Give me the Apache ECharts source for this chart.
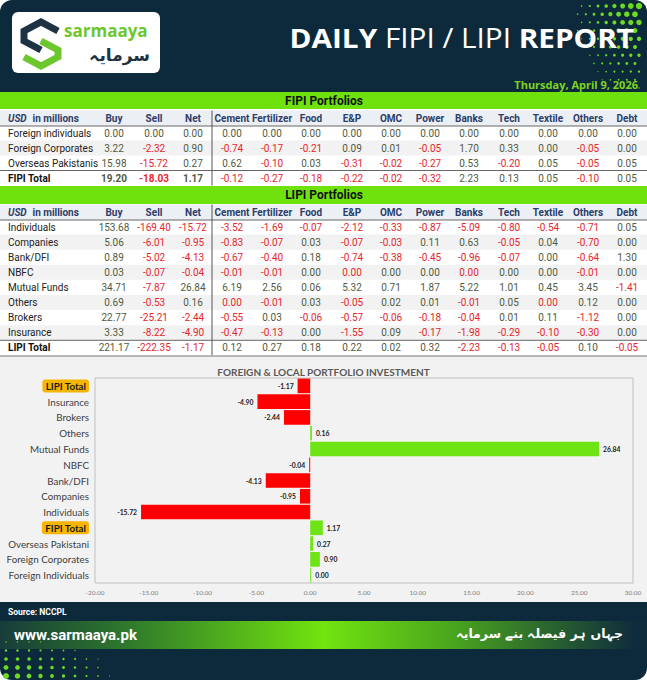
<!DOCTYPE html>
<html>
<head>
<meta charset="utf-8">
<script src="https://cdn.jsdelivr.net/npm/echarts@6/dist/echarts.min.js"></script>
<style>
html,body{margin:0;padding:0;background:#fff;}
#c{width:647px;height:680px;}
</style>
</head>
<body>
<div id="c"></div>
<script>
// ---------- DATA ----------
const reportTitleBold1 = 'DAILY';
const reportTitleMid = 'FIPI / LIPI';
const reportTitleBold2 = 'REPORT';
const reportDate = 'Thursday, April 9, 2026';
const columns = ['Buy','Sell','Net','Cement','Fertilizer','Food','E&P','OMC','Power','Banks','Tech','Textile','Others','Debt'];

const fipiLabels = ['Foreign individuals','Foreign Corporates','Overseas Pakistanis'];
const fipiValues = [
  [0.00, 0.00, 0.00, 0.00, 0.00, 0.00, 0.00, 0.00, 0.00, 0.00, 0.00, 0.00, 0.00, 0.00],
  [3.22, -2.32, 0.90, -0.74, -0.17, -0.21, 0.09, 0.01, -0.05, 1.70, 0.33, 0.00, -0.05, 0.00],
  [15.98, -15.72, 0.27, 0.62, -0.10, 0.03, -0.31, -0.02, -0.27, 0.53, -0.20, 0.05, -0.05, 0.05]
];
const fipiTotal = [19.20, -18.03, 1.17, -0.12, -0.27, -0.18, -0.22, -0.02, -0.32, 2.23, 0.13, 0.05, -0.10, 0.05];

const lipiLabels = ['Individuals','Companies','Bank/DFI','NBFC','Mutual Funds','Others','Brokers','Insurance'];
// -0 marks a value shown as 0.00 in red (tiny negative)
const lipiValues = [
  [153.68, -169.40, -15.72, -3.52, -1.69, -0.07, -2.12, -0.33, -0.87, -5.09, -0.80, -0.54, -0.71, 0.05],
  [5.06, -6.01, -0.95, -0.83, -0.07, 0.03, -0.07, -0.03, 0.11, 0.63, -0.05, 0.04, -0.70, 0.00],
  [0.89, -5.02, -4.13, -0.67, -0.40, 0.18, -0.74, -0.38, -0.45, -0.96, -0.07, 0.00, -0.64, 1.30],
  [0.03, -0.07, -0.04, -0.01, -0.01, 0.00, -0, 0.00, 0.00, -0, 0.00, 0.00, -0.01, 0.00],
  [34.71, -7.87, 26.84, 6.19, 2.56, 0.06, 5.32, 0.71, 1.87, 5.22, 1.01, 0.45, 3.45, -1.41],
  [0.69, -0.53, 0.16, -0, -0.01, 0.03, -0.05, 0.02, 0.01, -0.01, 0.05, -0, 0.12, 0.00],
  [22.77, -25.21, -2.44, -0.55, 0.03, -0.06, -0.57, -0.06, -0.18, -0.04, 0.01, 0.11, -1.12, 0.00],
  [3.33, -8.22, -4.90, -0.47, -0.13, 0.00, -1.55, 0.09, -0.17, -1.98, -0.29, -0.10, -0.30, 0.00]
];
const lipiTotal = [221.17, -222.35, -1.17, 0.12, 0.27, 0.18, 0.22, 0.02, 0.32, -2.23, -0.13, -0.05, 0.10, -0.05];

const chartTitle = 'FOREIGN & LOCAL PORTFOLIO INVESTMENT';
const chartCategories = ['Foreign Individuals','Foreign Corporates','Overseas Pakistani','FIPI Total','Individuals','Companies','Bank/DFI','NBFC','Mutual Funds','Others','Brokers','Insurance','LIPI Total'];
const chartValues = [0.00, 0.90, 0.27, 1.17, -15.72, -0.95, -4.13, -0.04, 26.84, 0.16, -2.44, -4.90, -1.17];
const xMin = -20, xMax = 30, xStep = 5;

const sourceText = 'Source: NCCPL';
const siteText = 'www.sarmaaya.pk';
const sloganText = 'جہاں ہر فیصلہ بنے سرمایہ';
const brandLatin = 'sarmaaya';
const brandUrdu = 'سرمایہ';

// ---------- STYLE ----------
const NAVY = '#0c2a3b';
const GREEN = '#6fe20e';
const POS = '#4f5a3f';
const NEG = '#e5262c';
const HEAD = '#2b3d6b';
const colX = [114,154,193,232,272,311,352,391,430,469,509,548,588,627];
const W = 647;

const g = [];
function rect(x,y,w,h,fill,z,r){ g.push({type:'rect', z:z||0, shape:{x,y,width:w,height:h,r:r||0}, style:{fill}, silent:true}); }
function line(x1,y1,x2,y2,stroke,lw,z){ g.push({type:'line', z:z||1, shape:{x1,y1,x2,y2}, style:{stroke, lineWidth:lw||1}, silent:true}); }
function txt(x,y,text,font,fill,align,z,extra){
  g.push({type:'text', z:z||2, x, y, silent:true, style:Object.assign({text, font, fill, align:align||'left', verticalAlign:'middle'}, extra||{})});
}
function isNeg(v){ return v < 0 || Object.is(v,-0); }
function fmt(v){ return (v<0?'-':'') + Math.abs(v).toFixed(2); }

// header
rect(0,0,W,92,NAVY,0,[12,12,0,0]);
// decorative dots top-right
for(let r=0;r<11;r++){ for(let c=0;c<12;c++){
  const d = Math.sqrt(c*c*0.7 + r*r*0.35);
  const rad = 3.2 - d*0.42;
  if(rad>0.35){
    g.push({type:'circle', z:1, silent:true, shape:{cx: W-8 - c*8.2 - (r%2)*4, cy: 6 + r*8.2, r:rad}, style:{fill:'#6cd923'}});
  }
}}
// logo
rect(12,12,148,61,'#ffffff',1,6);
g.push({type:'polyline', z:3, silent:true, shape:{points:[[58,31],[41,22],[24,31],[24,41],[41,50]]}, style:{stroke:'#1d3344', lineWidth:7, fill:null, lineJoin:'miter'}});
g.push({type:'polyline', z:3, silent:true, shape:{points:[[41,41],[58,50],[58,57],[41,66],[24,57]]}, style:{stroke:'#6cc72c', lineWidth:7, fill:null, lineJoin:'miter'}});
txt(64,30,brandLatin,'bold 17px "Open Sans"','#6cc72c','left',3);
txt(150,55,brandUrdu,'bold 17px "DejaVu Sans"','#1d3344','right',3);
// title
g.push({type:'text', z:3, x:634, y:38, scaleX:1.1, silent:true, style:{
  text:'{b|'+reportTitleBold1+' }{r|'+reportTitleMid+' }{b|'+reportTitleBold2+'}',
  align:'right', verticalAlign:'middle', fill:'#fff',
  rich:{ b:{font:'bold 27px "Open Sans"', fill:'#fff'}, r:{font:'27px "Open Sans"', fill:'#fff'} }
}});
txt(638,84,reportDate,'bold 11px "Open Sans"','#7ed321','right',3);

// table builder
function tableBlock(barY, barH, title, headY, rowYs, labels, values, totalY, totalLabel, totals, boldTotalsCols){
  rect(0,barY,W,barH,GREEN,1);
  txt(324,barY+barH/2,title,'bold 12px Roboto','#111','center',3);
  rect(0,headY-7.5,W,15.5,'#eceff3',1);
  line(0,headY+8,W,headY+8,'#666',1,2);
  g.push({type:'text', z:3, x:8, y:headY, silent:true, style:{text:'{i|USD} {b| in millions}', verticalAlign:'middle',
    rich:{i:{font:'italic bold 10px Roboto', fill:HEAD}, b:{font:'bold 10px Roboto', fill:HEAD}}}});
  columns.forEach((c,i)=>txt(colX[i],headY,c,'bold 10px Roboto',HEAD,'center',3));
  rowYs.forEach((y,ri)=>{
    if(ri%2===1) rect(0,y-7.55,W,15.1,'#f2f2f2',1);
    txt(8,y,labels[ri],'10px Roboto','#222','left',3);
    values[ri].forEach((v,ci)=>txt(colX[ci],y,fmt(v),'10px Roboto',isNeg(v)?NEG:POS,'center',3));
  });
  line(0,totalY-7.5,W,totalY-7.5,'#666',1,2);
  txt(8,totalY,totalLabel,'bold 10px Roboto','#111','left',3);
  totals.forEach((v,ci)=>txt(colX[ci],totalY,fmt(v),(ci<boldTotalsCols?'bold ':'')+'10px Roboto',isNeg(v)?NEG:POS,'center',3));
  line(212,headY-7.5,212,totalY+7.5,'#555',1,2);
}
tableBlock(92,17,'FIPI Portfolios',118,[133,148,163],fipiLabels,fipiValues,178,'FIPI Total',fipiTotal,3);
tableBlock(186,18,'LIPI Portfolios',212,[227,242.1,257.2,272.3,287.4,302.5,317.6,332.7],lipiLabels,lipiValues,347.8,'LIPI Total',lipiTotal,0);

// chart panel
rect(0,356,W,247,'#f2f2f2',-1);
line(0,356,W,356,'#777',1,2);

// footer
rect(0,602,W,78,NAVY,0,[0,0,12,12]);
g.push({type:'rect', z:1, silent:true, shape:{x:0,y:621,width:W,height:28}, style:{fill:new echarts.graphic.LinearGradient(0,0,1,0,[
  {offset:0,color:'#173c3a'},{offset:0.2,color:'#2f7a2c'},{offset:0.5,color:'#72e40f'},{offset:0.7,color:'#49a51e'},{offset:0.98,color:'#0f2c3d'}])}});
for(let r=0;r<5;r++){ for(let c=0;c<16;c++){
  const d = Math.sqrt(c*c*0.25 + r*r*1.1);
  const rad = 3.0 - d*0.55;
  if(rad>0.3){
    g.push({type:'circle', z:1, silent:true, shape:{cx: 6 + c*11.5, cy: 676 - r*8.5, r:rad}, style:{fill:'#6cd923'}});
  }
}}
txt(8,612,sourceText,'bold 8.5px Roboto','#fff','left',3);
txt(14,635,siteText,'bold 15px Roboto','#fff','left',3);
txt(623,633,sloganText,'bold 12.5px "DejaVu Sans"','#fff','right',3);

// ---------- CHART ----------
const chart = echarts.init(document.getElementById('c'), null, {renderer:'svg', width:647, height:680});
chart.setOption({
  animation:false,
  backgroundColor:'transparent',
  title:{ text:chartTitle, left:'center', top:362, textStyle:{fontFamily:'Lato', fontSize:10, fontWeight:'bold', color:'#595959'} },
  graphic:{ elements:g },
  grid:{ left:95, top:378, width:538, height:205, show:true, borderColor:'#c0c0c0', borderWidth:1, backgroundColor:'transparent', z:3 },
  xAxis:{ type:'value', min:xMin, max:xMax, interval:xStep,
    axisLine:{show:false}, axisTick:{show:false}, splitLine:{show:false},
    axisLabel:{ formatter:v=>v.toFixed(2), fontSize:6.5, color:'#7f7f7f', fontFamily:'Lato', margin:6 } },
  yAxis:{ type:'category', data:chartCategories,
    axisLine:{show:false}, axisTick:{show:false}, splitLine:{show:false},
    axisLabel:{ fontSize:9.8, color:'#404040', fontFamily:'Lato', margin:6,
      formatter:v=> (v==='LIPI Total'||v==='FIPI Total') ? '{t|'+v+'}' : v,
      rich:{ t:{ backgroundColor:'#f6b500', borderRadius:3, padding:[2,3,1,3], fontWeight:'bold', color:'#1a1a1a', fontSize:9.8, fontFamily:'Lato' } } } },
  series:[{
    type:'bar', z:4, barCategoryGap:'7%', barMinHeight:1,
    data: chartValues.map(v=>({ value:v,
      itemStyle:{ color: v<0 ? '#ff0000' : '#6ee414' },
      label:{ position: v<0 ? 'left' : 'right' } })),
    label:{ show:true, distance:4, formatter:p=>p.value.toFixed(2), fontSize:6.8, fontWeight:'bold', color:'#1a1a1a', fontFamily:'Lato' }
  }]
});
</script>
</body>
</html>
